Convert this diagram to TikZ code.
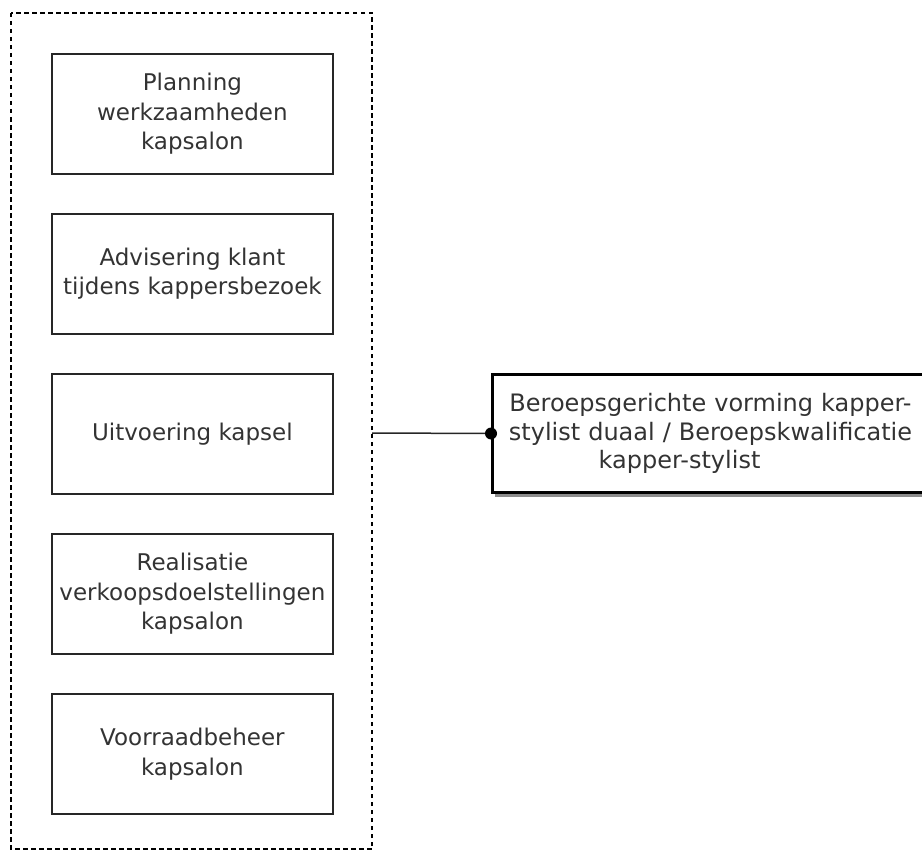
\documentclass[tikz,border=0pt]{standalone}
\usepackage{fontspec}
\setmainfont{DejaVu Sans}
\definecolor{txt}{HTML}{333333}
\tikzset{
  unit/.style={draw=black!85, line width=1.8pt, minimum width=281pt, minimum height=120pt,
    inner sep=0pt, align=center, text=txt, font=\fontsize{23}{29.5}\selectfont, anchor=north west},
  container/.style={draw=black, line width=1.6pt, dash pattern=on 4.5pt off 3.5pt},
  outcome/.style={draw=black, line width=3pt, fill=white, minimum width=436pt, minimum height=118pt,
    inner sep=0pt, align=center, text=txt, font=\fontsize{24}{28.5}\selectfont, anchor=north west},
  shadowbox/.style={fill=black!45},
  link/.style={draw=black!85, line width=1.5pt}
}
\begin{document}
\begin{tikzpicture}[x=1pt,y=-1pt]
\useasboundingbox (0,0) rectangle (922,851);
\draw[container] (11,13) rectangle (372,849);
\coordinate (cr) at (372,433);
\node[unit] (u1) at (51,53) {Planning\\werkzaamheden\\kapsalon};
\node[unit] (u2) at (51,213) {Advisering klant\\tijdens kappersbezoek};
\node[unit] (u3) at (51,373) {Uitvoering kapsel};
\node[unit] (u4) at (51,533) {Realisatie\\verkoopsdoelstellingen\\kapsalon};
\node[unit] (u5) at (51,693) {Voorraadbeheer\\kapsalon};
\fill[shadowbox] (495,378) rectangle (940,497);
\node[outcome, text width=436pt] (out) at (491,373) {\rule{0pt}{0pt}\vspace*{-0pt}\raisebox{-3pt}{\parbox{436pt}{\centering Beroepsgerichte vorming kapper-\hspace*{10pt}\\stylist duaal / Beroepskwalificatie\hspace*{12pt}\\kapper-stylist\hspace*{62pt}}}};
\draw[link] (cr) -- (out.west);
\fill[black] (out.west) circle (6pt);
\end{tikzpicture}
\end{document}
